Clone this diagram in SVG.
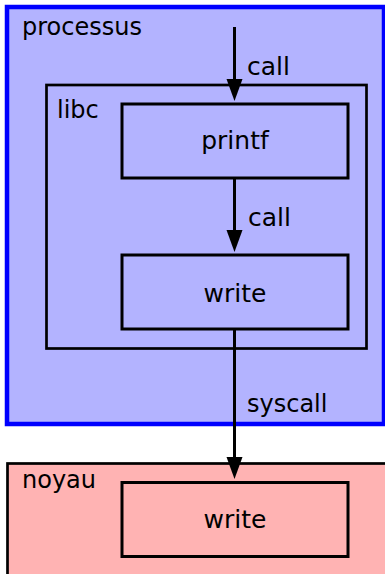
<svg xmlns="http://www.w3.org/2000/svg" width="385" height="574" viewBox="0 0 385 574">
<style>
text{font-family:"DejaVu Sans",sans-serif;font-size:24px;fill:#000}
.lbl{font-size:25px}
.box{fill:none;stroke:#000;stroke-width:3}
.edge{stroke:#000;stroke-width:3;fill:none}
.mid{text-anchor:middle}
</style>
<defs>
<marker id="ah" markerUnits="userSpaceOnUse" markerWidth="22" markerHeight="16" refX="10" refY="8" orient="auto" viewBox="0 0 22 16" overflow="visible">
<path d="M0,0 L22,8 L0,16 Z" fill="#000"/>
</marker>
</defs>
<g id="processus">
<rect x="7" y="7" width="377" height="417" fill="#b3b3ff" stroke="#0000ff" stroke-width="4.5"/>
<text x="22" y="35">processus</text>
</g>
<g id="libc">
<rect x="46.5" y="85" width="320" height="263.5" fill="none" stroke="#000" stroke-width="2.7"/>
<text x="57" y="118">libc</text>
</g>
<g id="printf">
<rect class="box" x="122" y="104" width="226" height="74"/>
<text class="mid lbl" x="235" y="149">printf</text>
</g>
<g id="write-libc">
<rect class="box" x="122" y="255" width="226" height="74"/>
<text class="mid lbl" x="235" y="302">write</text>
</g>
<g id="noyau">
<rect x="7.5" y="463.5" width="380" height="115" fill="#ffb3b3" stroke="#000" stroke-width="2.7"/>
<text x="22" y="488">noyau</text>
</g>
<g id="write-noyau">
<rect class="box" x="122" y="482.5" width="226" height="74"/>
<text class="mid lbl" x="235" y="528">write</text>
</g>
<g id="connectors">
<line class="edge" x1="234.5" y1="27" x2="234.5" y2="89" marker-end="url(#ah)"/>
<text class="lbl" x="247" y="75">call</text>
<line class="edge" x1="234.5" y1="178" x2="234.5" y2="240" marker-end="url(#ah)"/>
<text class="lbl" x="248" y="226">call</text>
<line class="edge" x1="234.5" y1="329" x2="234.5" y2="467" marker-end="url(#ah)"/>
<text x="247" y="412">syscall</text>
</g>
</svg>
